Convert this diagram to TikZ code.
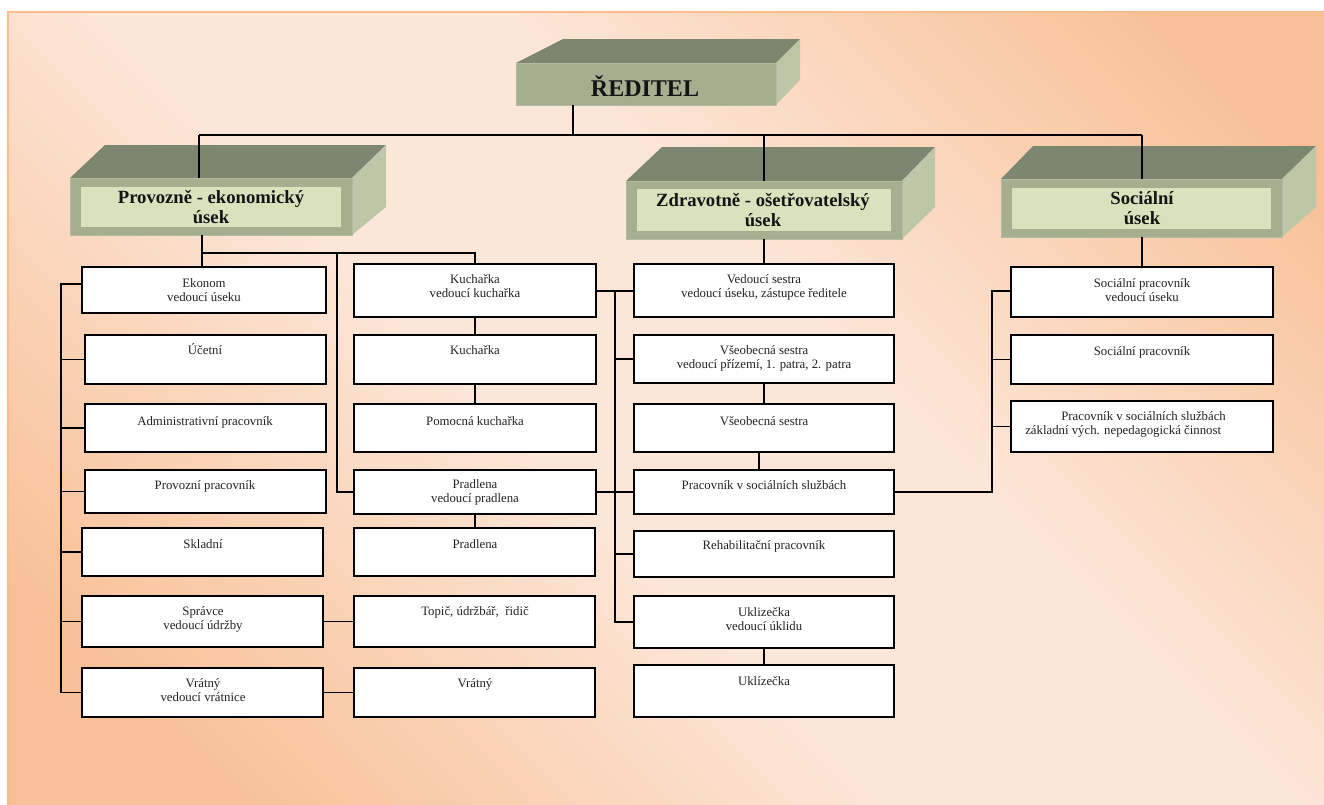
\documentclass[tikz,border=0pt]{standalone}
\usepackage{fontspec}
\setmainfont{Liberation Serif}
\usetikzlibrary{calc}
\definecolor{bgor}{HTML}{F8C096}
\definecolor{bglt}{HTML}{FCE6D7}
\definecolor{bdor}{HTML}{F7BD8B}
\definecolor{topf}{HTML}{7D8670}
\definecolor{frontf}{HTML}{A5AF8F}
\definecolor{sidef}{HTML}{BDC7A7}
\definecolor{innerf}{HTML}{D8E3BE}
\definecolor{txt}{HTML}{222222}
\pgfdeclarehorizontalshading{bgsh}{100bp}{color(0bp)=(bgor); color(22bp)=(bgor); color(44bp)=(bglt); color(58bp)=(bglt); color(80bp)=(bgor); color(100bp)=(bgor)}
\tikzset{
  wb/.style={draw=black, line width=1.4pt, fill=white, inner sep=0pt, outer sep=0pt},
  fc/.style={fill=frontf, draw=frontf!85!white, line width=0.6pt, inner sep=0pt, outer sep=0pt},
  lbl/.style={font=\fontsize{9.6}{10.5}\selectfont, text=txt, align=center, inner sep=0pt, anchor=base},
  hd/.style={font=\fontsize{14}{14.5}\selectfont\bfseries, text=black!92, align=center, inner sep=0pt, anchor=base},
  con/.style={line width=1.3pt, black},
}
% white box: name, x1, y1, x2, y2
\newcommand\wbx[5]{\node[wb, anchor=north west, minimum width={(#4-#2)*0.75pt}, minimum height={(#5-#3)*0.75pt}] (#1) at (#2,#3) {};}
% 3d block: name, x1, y1, x2, y2, back-left x, back-right x, back y, right-bottom y
\newcommand\blk[9]{%
  \fill[topf] (#2,#3) -- (#6,#8) -- (#7,#8) -- (#4,#3) -- cycle;
  \fill[sidef] (#4,#3) -- (#7,#8) -- (#7,#9) -- (#4,#5) -- cycle;
  \node[fc, anchor=north west, minimum width={(#4-#2)*0.75pt}, minimum height={(#5-#3)*0.75pt}] (#1) at (#2,#3) {};}
\begin{document}
\begin{tikzpicture}[x=0.75pt, y=-0.75pt]
\useasboundingbox (0,0) rectangle (1324,804);
\clip (0,0) rectangle (1324,804);
\fill[white] (0,0) rectangle (1324,804);
\shade[shading=bgsh, shading angle=45] (8,12) rectangle (1330,810);
\draw[bdor, line width=1.6pt] (8,12) rectangle (1330,810);

% 3D header blocks
\blk{reditel}{516}{63}{776}{105}{563}{800}{39}{80}
\blk{provozne}{70}{178}{352}{235}{105}{386}{145}{207}
\blk{zdrav}{626}{181}{902}{239}{662}{935}{147}{207}
\blk{social}{1001}{179}{1282}{237}{1033}{1316}{146}{207}
\fill[innerf] (81,187) rectangle (341,227);
\fill[innerf] (637,189) rectangle (891,231);
\fill[innerf] (1012,188) rectangle (1271,229);

\node[font=\fontsize{18}{20}\selectfont\bfseries, text=black!92, inner sep=0pt, anchor=base] at (645,96) {ŘEDITEL};
\node[hd] at (211,223) {Provozně - ekonomický\\úsek};
\node[hd] at (763,226) {Zdravotně - ošetřovatelský\\úsek};
\node[hd] at (1142,224) {Sociální\\úsek};

% white boxes - left column
\wbx{ekonom}{82}{267}{326}{313}
\wbx{ucetni}{85}{335}{326}{384}
\wbx{admin}{85}{404}{326}{452}
\wbx{provozni}{85}{470}{326}{513}
\wbx{skladni}{82}{528}{323}{576}
\wbx{spravce}{82}{596}{323}{647}
\wbx{vratnyV}{82}{668}{323}{717}
% middle column
\wbx{kuchV}{354}{264}{596}{317}
\wbx{kuch}{354}{335}{596}{384}
\wbx{pomoc}{354}{404}{596}{452}
\wbx{pradV}{354}{470}{596}{514}
\wbx{pradlena}{354}{528}{595}{576}
\wbx{topic}{354}{596}{595}{647}
\wbx{vratny}{354}{668}{595}{717}
% health column
\wbx{sestraV}{634}{264}{894}{317}
\wbx{vseobV}{634}{335}{894}{383}
\wbx{vseob}{634}{404}{894}{452}
\wbx{pracSS}{634}{470}{894}{514}
\wbx{rehab}{634}{531}{894}{577}
\wbx{uklizV}{634}{596}{894}{648}
\wbx{uklizecka}{634}{665}{894}{717}
% social column
\wbx{socV}{1011}{267}{1273}{317}
\wbx{socPrac}{1011}{335}{1273}{384}
\wbx{pracSS2}{1011}{401}{1273}{452}

% labels (base anchor = baseline of the last line)
\node[lbl] at (204,301) {Ekonom\\vedoucí úseku};
\node[lbl] at (205,354) {Účetní};
\node[lbl] at (205,425) {Administrativní pracovník};
\node[lbl] at (205,489) {Provozní pracovník};
\node[lbl] at (203,548) {Skladní};
\node[lbl] at (203,629) {Správce\\vedoucí údržby};
\node[lbl] at (203,701) {Vrátný\\vedoucí vrátnice};
\node[lbl] at (475,297) {Kuchařka\\vedoucí kuchařka};
\node[lbl] at (475,354) {Kuchařka};
\node[lbl] at (475,425) {Pomocná kuchařka};
\node[lbl] at (475,502) {Pradlena\\vedoucí pradlena};
\node[lbl] at (475,548) {Pradlena};
\node[lbl] at (475,615) {Topič, údržbář,~ řidič};
\node[lbl] at (475,687) {Vrátný};
\node[lbl] at (764,297) {Vedoucí sestra\\vedoucí úseku, zástupce ředitele};
\node[lbl] at (764,368) {Všeobecná sestra\\vedoucí přízemí, 1. patra, 2. patra};
\node[lbl] at (764,425) {Všeobecná sestra};
\node[lbl] at (764,489) {Pracovník v sociálních službách};
\node[lbl] at (764,549) {Rehabilitační pracovník};
\node[lbl] at (764,630) {Uklizečka\\vedoucí úklidu};
\node[lbl] at (764,685) {Uklízečka};
\node[lbl] at (1142,301) {Sociální pracovník\\vedoucí úseku};
\node[lbl] at (1142,355) {Sociální pracovník};
\node[lbl, align=left, anchor=base west] at (1025,434) {\hspace*{27pt}Pracovník v sociálních službách\\základní vých. nepedagogická činnost};

% connectors: director bus
\coordinate (busL) at (199,135);
\coordinate (busR) at (1142,135);
\coordinate (rdrop) at (573,135);
\coordinate (zdrop) at (764,135);
\draw[con] (reditel.south -| rdrop) -- (rdrop);
\draw[con] (busL) -- (busR);
\draw[con] (busL) -- (busL |- provozne.north);
\draw[con] (zdrop) -- (zdrop |- zdrav.north);
\draw[con] (busR) -- (busR |- social.north);

% operations section
\coordinate (pdrop) at (202,253);
\coordinate (pbr) at (337,253);
\draw[con] (provozne.south -| pdrop) -- (pdrop |- ekonom.north);
\draw[con] (pdrop) -| (kuchV.north);
\draw[con] (pbr) |- (pradV.west);
\coordinate (lsp) at (61,284);
\draw[con] (ekonom.west |- lsp) -- (lsp) |- (vratnyV.west);
\foreach \n in {ucetni,admin,provozni,skladni,spravce}
  \draw[con] (lsp |- \n.west) -- (\n.west);
\draw[con] (kuchV.south) -- (kuch.north);
\draw[con] (kuch.south) -- (pomoc.north);
\draw[con] (pradV.south) -- (pradV.south |- pradlena.north);
\draw[con] (spravce.east) -- (spravce.east -| topic.west);
\draw[con] (vratnyV.east) -- (vratnyV.east -| vratny.west);

% middle spine
\coordinate (msp) at (615,291);
\draw[con] (kuchV.east |- msp) -- (sestraV.west |- msp);
\draw[con] (msp) |- (uklizV.west);
\foreach \n in {vseobV,pracSS,rehab}
  \draw[con] (msp |- \n.west) -- (\n.west);
\draw[con] (pradV.east) -- (pradV.east -| msp);

% health section
\draw[con] (zdrav.south -| sestraV.north) -- (sestraV.north);
\draw[con] (vseobV.south) -- (vseob.north);
\draw[con] ([xshift=-3.75pt]vseob.south) -- ([xshift=-3.75pt]pracSS.north);
\draw[con] (uklizV.south) -- (uklizecka.north);

% social section
\coordinate (rsp) at (992,291);
\draw[con] (pracSS.east) -| (rsp) -- (socV.west |- rsp);
\foreach \n in {socPrac,pracSS2}
  \draw[con] (rsp |- \n.west) -- (\n.west);
\draw[con] (social.south -| socV.north) -- (socV.north);
\end{tikzpicture}
\end{document}
